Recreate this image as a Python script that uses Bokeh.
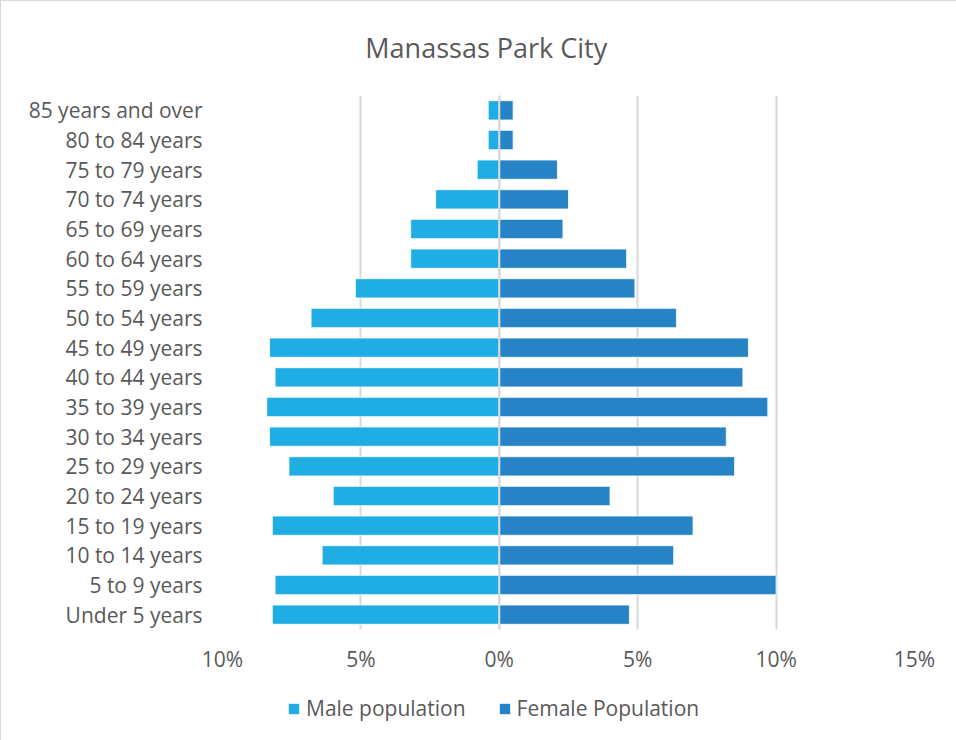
from bokeh.plotting import figure
from bokeh.layouts import column
from bokeh.models import (ColumnDataSource, FactorRange, FixedTicker, Legend, LegendItem,
                          Span, Label, Range1d)
from bokeh.embed import file_html
from bokeh.resources import INLINE

categories = ["Under 5 years", "5 to 9 years", "10 to 14 years", "15 to 19 years",
              "20 to 24 years", "25 to 29 years", "30 to 34 years", "35 to 39 years",
              "40 to 44 years", "45 to 49 years", "50 to 54 years", "55 to 59 years",
              "60 to 64 years", "65 to 69 years", "70 to 74 years", "75 to 79 years",
              "80 to 84 years", "85 years and over"]
male = [8.2, 8.1, 6.4, 8.2, 6.0, 7.6, 8.3, 8.4, 8.1, 8.3, 6.8, 5.2, 3.2, 3.2, 2.3, 0.8, 0.4, 0.4]
female = [4.7, 10.0, 6.3, 7.0, 4.0, 8.5, 8.2, 9.7, 8.8, 9.0, 6.4, 4.9, 4.6, 2.3, 2.5, 2.1, 0.5, 0.5]
tick_values = [-10, -5, 0, 5, 10, 15]
tick_labels = ["10%", "5%", "0%", "5%", "10%", "15%"]
series_names = ["Male population", "Female Population"]
title_text = "Manassas Park City"

FONT = "Open Sans"
GRAY = "#595959"
MALE_C = "#1FADE4"
FEMALE_C = "#2683C6"

src = ColumnDataSource(dict(
    cat=categories,
    male_neg=[-v for v in male],
    female=female,
))

xr = Range1d(-10, 15)

# Title strip
tt = figure(width=955, height=94, x_range=xr, y_range=(0, 1), output_backend="svg",
            toolbar_location=None, min_border_left=221, min_border_right=42,
            min_border_top=0, min_border_bottom=0)
tt.axis.visible = False
tt.grid.visible = False
tt.outline_line_color = None
tt.add_layout(Label(x=-0.47, y=0.51, text=title_text, text_align="center",
                    text_baseline="middle", text_font=FONT, text_font_size="27px",
                    text_color=GRAY))

# Main chart
p = figure(width=955, height=586, y_range=FactorRange(*categories, range_padding=0),
           x_range=xr, output_backend="svg", toolbar_location=None,
           min_border_left=221, min_border_right=42, min_border_top=0, min_border_bottom=52)
p.outline_line_color = None

p.hbar(y="cat", left="male_neg", right=0, height=0.65, source=src,
       fill_color=MALE_C, line_color="white", line_width=0.8)
p.hbar(y="cat", left=0, right="female", height=0.65, source=src,
       fill_color=FEMALE_C, line_color="white", line_width=0.8)

p.xaxis.ticker = FixedTicker(ticks=tick_values)
p.xaxis.major_label_overrides = {v: l for v, l in zip(tick_values, tick_labels)}
for ax in (p.xaxis, p.yaxis):
    ax.axis_line_color = None
    ax.major_tick_line_color = None
    ax.minor_tick_line_color = None
    ax.major_label_text_font = FONT
    ax.major_label_text_font_size = "21px"
    ax.major_label_text_color = GRAY
p.xaxis.major_label_standoff = 9
p.yaxis.major_label_standoff = 14

p.ygrid.grid_line_color = None
p.xgrid.grid_line_color = "#d9d9d9"
p.xgrid.grid_line_width = 2
p.add_layout(Span(location=0, dimension="height", line_color="#d9d9d9", line_width=2))

# Legend strip below the chart (its frame is aligned with the chart's frame)
lg = figure(width=955, height=59, x_range=(0, 1), y_range=(0, 1), output_backend="svg",
            toolbar_location=None, min_border=0, min_border_left=221, min_border_right=42,
            min_border_top=0, min_border_bottom=0)
lg.axis.visible = False
lg.grid.visible = False
lg.outline_line_color = None
# zero-size swatch renderers (only used for the legend entries)
sw_m = lg.hbar(y=[-1], height=0, left=0, right=0, fill_color=MALE_C, line_color=None)
sw_f = lg.hbar(y=[-1], height=0, left=0, right=0, fill_color=FEMALE_C, line_color=None)
legend = Legend(items=[LegendItem(label=series_names[0], renderers=[sw_m]),
                       LegendItem(label=series_names[1], renderers=[sw_f])],
                orientation="horizontal", location=(65, 18),
                label_text_font=FONT, label_text_font_size="21px", label_text_color=GRAY,
                glyph_width=13, glyph_height=13, label_standoff=6, spacing=32,
                padding=0, margin=0, border_line_color=None, background_fill_alpha=0)
lg.add_layout(legend)

layout = column(tt, p, lg, spacing=0)
layout.styles = {"border": "1px solid #d9d9d9"}

open("out.html", "w").write(file_html(layout, INLINE))
